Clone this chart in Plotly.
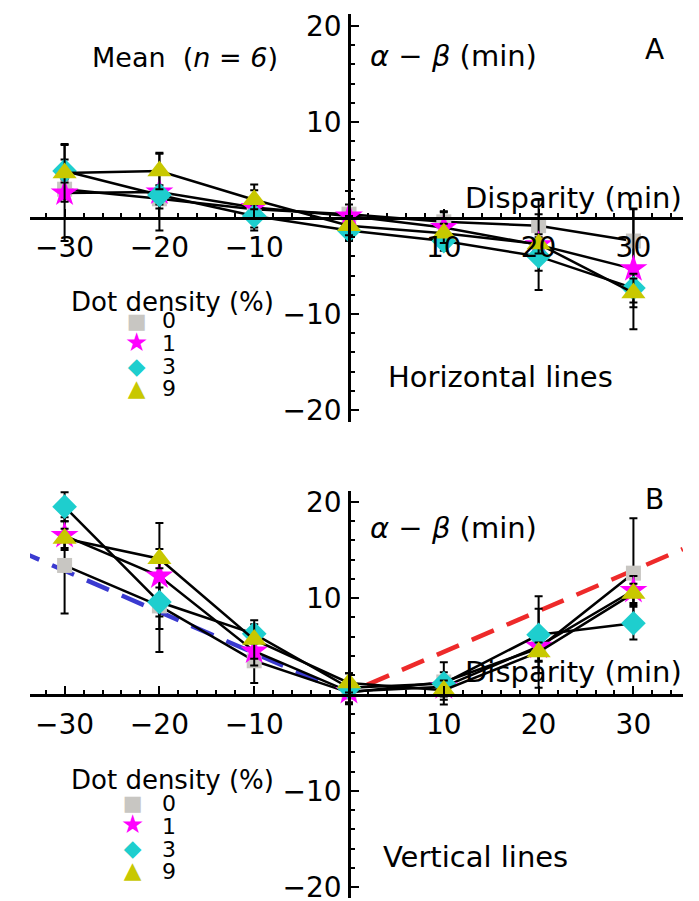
import plotly.graph_objects as go

# ---------------- data ----------------
disparity = [-30, -20, -10, 0, 10, 20, 30]
densities = ["0", "1", "3", "9"]

# Panel A: horizontal lines, alpha - beta (min)
A_d0 = [3.0, 2.0, 0.9, 0.4, -0.4, -0.8, -2.4]
A_d1 = [2.6, 2.7, 1.1, 0.2, -1.0, -2.8, -5.3]
A_d3 = [4.9, 2.4, 0.2, -1.3, -2.4, -4.0, -7.3]
A_d9 = [4.7, 4.9, 1.9, -0.8, -1.6, -2.7, -7.8]
A_err_d0 = [1.0, 1.0, 1.0, 1.0, 1.0, 1.2, 3.3]
A_err_d1 = [5.0, 4.0, 2.4, 2.6, 1.7, 4.7, 6.3]
A_err_d3 = [1.2, 1.0, 1.2, 1.0, 1.0, 1.5, 1.5]
A_err_d9 = [3.0, 1.9, 1.0, 1.0, 1.0, 1.0, 1.5]

# Panel B: vertical lines
B_d0 = [13.4, 9.2, 3.5, 0.2, 1.3, 4.8, 12.6]
B_d1 = [16.5, 12.3, 4.5, 0.3, 0.8, 5.0, 10.8]
B_d3 = [19.5, 9.6, 6.3, 0.7, 1.15, 6.2, 7.4]
B_d9 = [16.2, 14.1, 5.7, 1.2, 0.45, 4.4, 10.5]
B_err_d0 = [5.0, 4.8, 2.3, 1.2, 1.0, 4.1, 5.7]
B_err_d1 = [1.5, 5.5, 1.5, 1.2, 1.0, 1.5, 1.5]
B_err_d3 = [1.5, 1.5, 1.0, 1.5, 2.2, 4.0, 1.7]
B_err_d9 = [1.0, 1.0, 2.0, 1.0, 1.0, 1.0, 1.0]

# reference (model) lines in panel B
blue_x = [-35.0, -2.3]
blue_y = [15.0, 1.0]
red_x = [1.9, 35.2]
red_y = [1.0, 15.1]

x_ticks = [-30, -20, -10, 10, 20, 30]
x_ticktext = ["\u221230", "\u221220", "\u221210", "10", "20", "30"]
y_ticks = [-20, -10, 10, 20]
y_ticktext = ["\u221220", "\u221210", "10", "20"]

# ---------------- styles ----------------
FONT = "DejaVu Sans"
colors = ["#c8c6c2", "#ff00ff", "#1ecece", "#c8c800"]
symbols = ["square", "star", "diamond", "triangle-up"]
sizes = [15, 21, 19, 21]
legend_glyphs = ["\u25a0", "\u2605", "\u25c6", "\u25b2"]
legend_glyph_px = [21, 26, 23, 23]

fig = go.Figure()

panels = [
    ("x", "y", [A_d0, A_d1, A_d3, A_d9], [A_err_d0, A_err_d1, A_err_d3, A_err_d9]),
    ("x2", "y2", [B_d0, B_d1, B_d3, B_d9], [B_err_d0, B_err_d1, B_err_d3, B_err_d9]),
]

# dashed model lines (panel B)
fig.add_trace(go.Scatter(x=blue_x, y=blue_y, mode="lines", xaxis="x2", yaxis="y2",
                         line=dict(color="#3a3ad0", width=4.5, dash="24px,14px"),
                         showlegend=False, hoverinfo="skip"))
fig.add_trace(go.Scatter(x=red_x, y=red_y, mode="lines", xaxis="x2", yaxis="y2",
                         line=dict(color="#ee2a2a", width=4.5, dash="24px,14px"),
                         showlegend=False, hoverinfo="skip"))

for xa, ya, series, errs in panels:
    for i, (vals, err) in enumerate(zip(series, errs)):
        fig.add_trace(go.Scatter(
            x=disparity, y=vals, xaxis=xa, yaxis=ya,
            mode="lines+markers",
            line=dict(color="black", width=2.5),
            marker=dict(symbol=symbols[i], size=sizes[i], color=colors[i],
                        line=dict(width=0)),
            error_y=dict(type="data", array=err, visible=True,
                         color="black", thickness=2, width=4),
            name=densities[i], showlegend=False, cliponaxis=False,
        ))

# ---------------- axes ----------------
x_range = [-33.65, 35.23]
x_zero_frac = 33.65 / (33.65 + 35.23)
TICK_SIZE = 28

common_x = dict(range=x_range, domain=[0, 1], anchor="free", showgrid=False,
                zeroline=False, showline=True, linecolor="black", linewidth=2.5,
                ticks="inside", ticklen=8, tickwidth=2, tickcolor="black",
                tickvals=x_ticks, ticktext=x_ticktext, automargin=False,
                tickfont=dict(family=FONT, size=TICK_SIZE, color="black"),
                ticklabelstandoff=4,
                minor=dict(dtick=2, ticks="inside", ticklen=4, tickwidth=1.5,
                           tickcolor="black"))
common_y = dict(anchor="free", position=x_zero_frac, showgrid=False,
                zeroline=False, showline=True, linecolor="black", linewidth=2.5,
                ticks="inside", ticklen=8, tickwidth=2, tickcolor="black",
                tickvals=y_ticks, ticktext=y_ticktext, automargin=False,
                tickfont=dict(family=FONT, size=TICK_SIZE, color="black"),
                ticklabelstandoff=1,
                minor=dict(dtick=2, ticks="inside", ticklen=4, tickwidth=1.5,
                           tickcolor="black"))

yA_range = [-21.25, 21.25]
yA_domain = [476 / 884, 1.0]
yB_range = [-21.13, 21.13]
yB_domain = [0.0, 407 / 884]

def zero_frac(rng, dom):
    return dom[0] + (0 - rng[0]) / (rng[1] - rng[0]) * (dom[1] - dom[0])

fig.update_layout(
    xaxis=dict(common_x, position=zero_frac(yA_range, yA_domain)),
    yaxis=dict(common_y, range=yA_range, domain=yA_domain),
    xaxis2=dict(common_x, position=zero_frac(yB_range, yB_domain)),
    yaxis2=dict(common_y, range=yB_range, domain=yB_domain),
)

# ---------------- text ----------------
ann = []
def txt(x, y, t, xr, yr, size=28, xanchor="center"):
    ann.append(dict(x=x, y=y, xref=xr, yref=yr, text=t, showarrow=False,
                    xanchor=xanchor, yanchor="middle",
                    font=dict(family=FONT, size=size, color="black")))

ALPHA_BETA = "<i>\u03b1</i> \u2212 <i>\u03b2</i> (min)"
# panel A
txt(-17.3, 16.7, "Mean  (<i>n</i> = <i>6</i>)", "x", "y", size=27)
txt(2.0, 16.9, ALPHA_BETA, "x", "y", size=29, xanchor="left")
txt(32.2, 17.6, "A", "x", "y", size=28)
txt(23.7, 2.1, "Disparity (min)", "x", "y", size=29)
txt(16.0, -16.6, "Horizontal lines", "x", "y", size=29)
# panel B
txt(32.2, 20.2, "B", "x2", "y2", size=28)
txt(2.0, 17.3, ALPHA_BETA, "x2", "y2", size=29, xanchor="left")
txt(23.7, 2.3, "Disparity (min)", "x2", "y2", size=29)
txt(13.3, -16.9, "Vertical lines", "x2", "y2", size=29)

# legends (keys drawn as text glyphs)
glyph_col = "<br>".join(
    f"<span style='color:{c};font-size:{s}px'>{g}</span>"
    for g, c, s in zip(legend_glyphs, colors, legend_glyph_px))
label_col = "<br>".join(f"<span style='font-size:22px'>{d}</span>" for d in densities)
for xr, yr, title_y, mid_y, mx in [("x", "y", -8.75, -14.25, -22.4),
                                   ("x2", "y2", -8.9, -14.8, -22.8)]:
    txt(-18.6, title_y, "Dot density (%)", xr, yr, size=26)
    ann.append(dict(x=mx, y=mid_y, xref=xr, yref=yr, text=glyph_col, showarrow=False,
                    xanchor="center", yanchor="middle", align="center",
                    font=dict(family=FONT, size=17.5, color="black")))
    ann.append(dict(x=-19.9, y=mid_y, xref=xr, yref=yr, text=label_col, showarrow=False,
                    xanchor="left", yanchor="middle", align="left",
                    font=dict(family=FONT, size=17.5, color="black")))

# the page body adds an 8px offset, so margins are shifted by 8px
fig.update_layout(
    annotations=ann,
    width=699, height=901,
    margin=dict(l=22, r=24, t=6, b=11, autoexpand=False),
    paper_bgcolor="white", plot_bgcolor="white",
    font=dict(family=FONT, color="black"),
)

fig.write_html("out.html")
